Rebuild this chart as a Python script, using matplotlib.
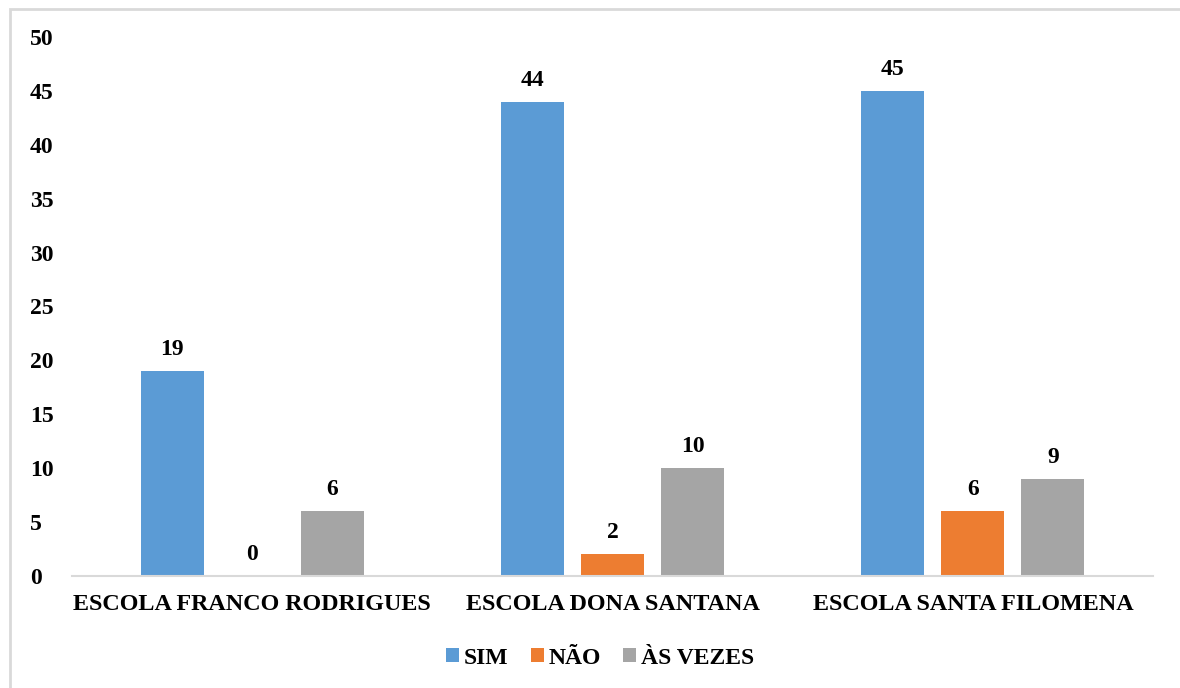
import matplotlib
matplotlib.use("Agg")
import matplotlib.pyplot as plt
from matplotlib.patches import Rectangle
import numpy as np

categories = ["ESCOLA FRANCO RODRIGUES", "ESCOLA DONA SANTANA", "ESCOLA SANTA FILOMENA"]
series_names = ["SIM", "NÃO", "ÀS VEZES"]
sim = [19, 44, 45]
nao = [0, 2, 6]
as_vezes = [6, 10, 9]
colors = ["#5b9bd5", "#ed7d31", "#a5a5a5"]
yticks = [0, 5, 10, 15, 20, 25, 30, 35, 40, 45, 50]

plt.rcParams['font.family'] = ['Liberation Serif', 'DejaVu Serif']
plt.rcParams['font.weight'] = 'bold'

FS = 17
W, H = 1180, 688
fig = plt.figure(figsize=(W / 100, H / 100), dpi=100)
ax = fig.add_axes([72 / W, (H - 576) / H, (1153 - 72) / W, (576 - 37) / H])

x = np.arange(len(categories))
bw = 63 / 360
step = 80 / 360
for i, (vals, name, c) in enumerate(zip([sim, nao, as_vezes], series_names, colors)):
    pos = x + (i - 1) * step
    ax.bar(pos, vals, width=bw, color=c, label=name, zorder=2)
    for p, v in zip(pos, vals):
        ax.annotate(str(v), (p, v), xytext=(0, 8), textcoords="offset points",
                    ha="center", va="bottom", fontsize=FS, fontweight="bold")

ax.set_xlim(-0.5, 2.5)
ax.set_ylim(0, 50)
ax.set_yticks(yticks)
ax.set_yticklabels([str(t) for t in yticks], fontsize=FS, fontweight="bold")
ax.set_xticks(x)
ax.set_xticklabels(categories, fontsize=FS + 0.4, fontweight="bold")
ax.tick_params(axis="both", length=0)
ax.tick_params(axis="x", pad=13)
for s in ["top", "right", "left"]:
    ax.spines[s].set_visible(False)
ax.spines["bottom"].set_color("#d9d9d9")
ax.spines["bottom"].set_linewidth(1.5)
for lbl in ax.get_yticklabels():
    lbl.set_horizontalalignment("left")
ax.tick_params(axis="y", pad=(72 - 30) * 0.72)

fig.legend(loc="center", bbox_to_anchor=(600 / W, (H - 658) / H), ncol=3,
           frameon=False, prop={"size": FS, "weight": "bold"},
           handlelength=0.55, handleheight=0.55, handletextpad=0.2, columnspacing=0.95)

fig.patches.append(Rectangle((10 / W, -0.2), 1.2, (H - 9) / H + 0.2, transform=fig.transFigure,
                             fill=False, edgecolor="#d9d9d9", linewidth=2))

fig.savefig("out.png", dpi=100)
